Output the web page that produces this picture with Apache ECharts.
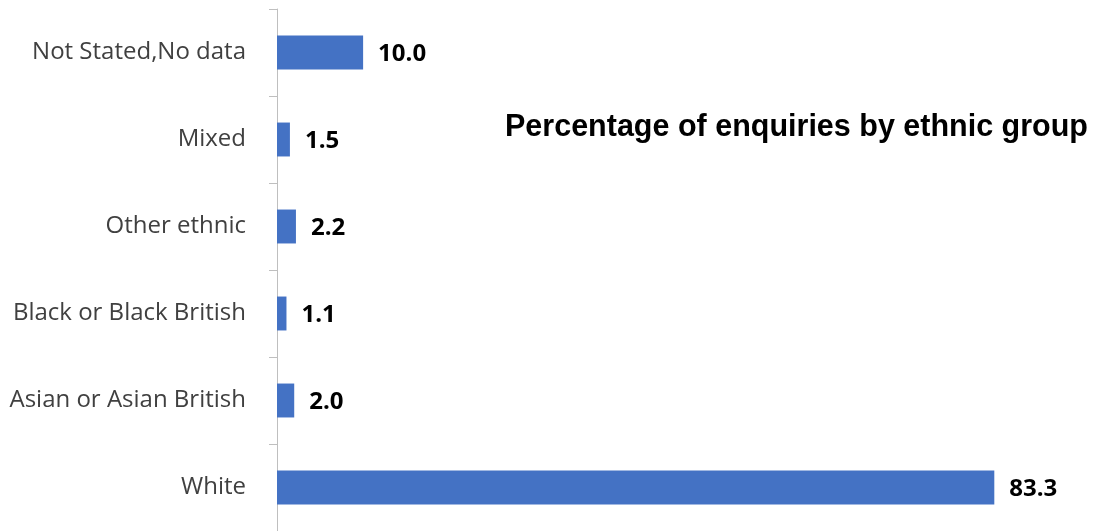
<!DOCTYPE html>
<html>
<head>
<meta charset="utf-8">
<script src="https://cdn.jsdelivr.net/npm/echarts@6/dist/echarts.min.js"></script>
<style>
    html, body { margin: 0; padding: 0; background: #ffffff; }
    #main { width: 1097px; height: 531px; }
</style>
</head>
<body>
<div id="main"></div>
<script>
// categories listed bottom to top
var categories = ['White', 'Asian or Asian British', 'Black or Black British', 'Other ethnic', 'Mixed', 'Not Stated,No data'];
var percentages = [83.3, 2.0, 1.1, 2.2, 1.5, 10.0];

var chart = echarts.init(document.getElementById('main'));
chart.setOption({
    backgroundColor: '#ffffff',
    animation: false,
    title: {
        text: 'Percentage of enquiries by ethnic group',
        left: 500,
        top: 107,
        textStyle: {
            fontFamily: 'Liberation Sans',
            fontSize: 30.5,
            fontWeight: 'bold',
            color: '#000000'
        }
    },
    grid: {
        left: 277,
        right: 45,
        top: 9,
        bottom: -4
    },
    xAxis: {
        type: 'value',
        min: 0,
        max: 90,
        show: false
    },
    yAxis: {
        type: 'category',
        data: categories,
        axisLine: { lineStyle: { color: '#bfbfbf', width: 1 } },
        axisTick: { show: true, length: 8, lineStyle: { color: '#bfbfbf' } },
        axisLabel: {
            margin: 31,
            fontFamily: 'Open Sans',
            fontSize: 24,
            color: '#404040',
            padding: [3, 0, 0, 0]
        }
    },
    series: [{
        name: 'Percentage',
        type: 'bar',
        data: percentages,
        barWidth: '39%',
        itemStyle: { color: '#4472c4' },
        label: {
            show: true,
            position: 'right',
            distance: 15,
            offset: [0, 2],
            formatter: function (p) { return p.value.toFixed(1); },
            fontFamily: 'Open Sans',
            fontSize: 24,
            fontWeight: 'bold',
            color: '#000000'
        }
    }]
});
</script>
</body>
</html>
